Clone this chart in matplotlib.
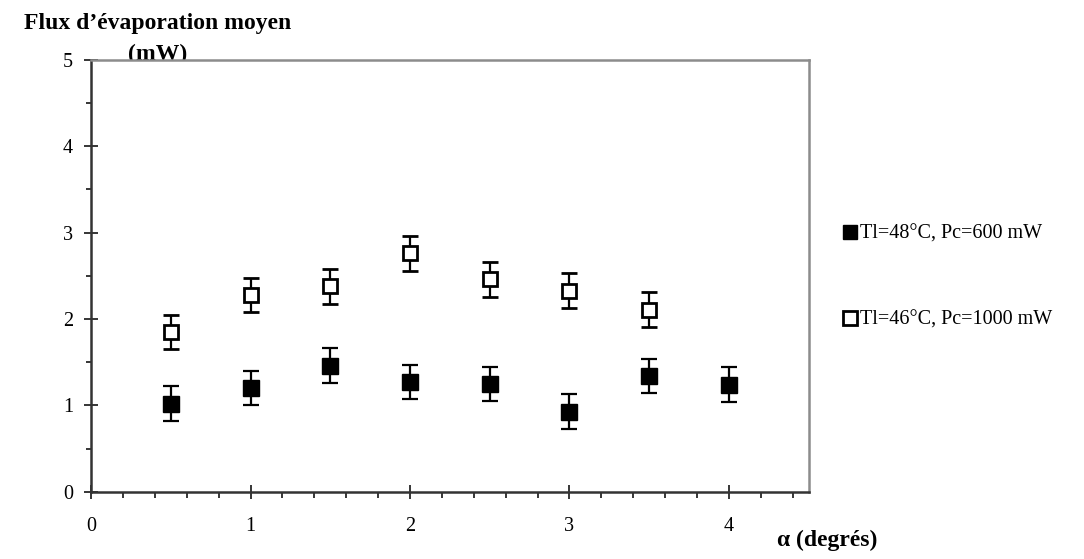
import numpy as np
import matplotlib
matplotlib.use('Agg')
import matplotlib.pyplot as plt
from matplotlib.lines import Line2D
from matplotlib.ticker import MultipleLocator

plt.rcParams['font.family'] = ['Liberation Serif', 'DejaVu Serif']

# angle (degres)
alpha_600 = [0.5, 1.0, 1.5, 2.0, 2.5, 3.0, 3.5, 4.0]
flux_600 = [1.02, 1.20, 1.46, 1.27, 1.25, 0.93, 1.34, 1.24]
err_600 = [0.2, 0.2, 0.2, 0.2, 0.2, 0.2, 0.2, 0.2]

alpha_1000 = [0.5, 1.0, 1.5, 2.0, 2.5, 3.0, 3.5]
flux_1000 = [1.85, 2.28, 2.38, 2.76, 2.46, 2.33, 2.11]
err_1000 = [0.2, 0.2, 0.2, 0.2, 0.2, 0.2, 0.2]

labels = ['Tl=48°C, Pc=600 mW', 'Tl=46°C, Pc=1000 mW']

fig = plt.figure(figsize=(10.84, 5.59), dpi=100)
ax = fig.add_axes([0.084, 0.12, 0.662, 0.773])

ax.errorbar(alpha_600, flux_600, yerr=err_600, fmt='s', color='black',
            markersize=11, ecolor='black', elinewidth=1.6, capsize=5.5,
            capthick=1.6)
ax.errorbar(alpha_1000, flux_1000, yerr=err_1000, fmt='s', color='black',
            markerfacecolor='white', markeredgecolor='black', markeredgewidth=2.0,
            markersize=10, ecolor='black', elinewidth=1.6, capsize=5.5,
            capthick=1.6)

ax.set_xlim(0, 4.5)
ax.set_ylim(0, 5)
ax.xaxis.set_major_locator(MultipleLocator(1))
ax.xaxis.set_minor_locator(MultipleLocator(0.2))
ax.yaxis.set_major_locator(MultipleLocator(1))
ax.yaxis.set_minor_locator(MultipleLocator(0.5))

ax.tick_params(axis='x', which='major', direction='inout', length=10, width=1.1,
               pad=13, labelsize=14.5)
ax.tick_params(axis='x', which='minor', direction='out', length=4, width=1.1)
ax.tick_params(axis='y', which='major', direction='inout', length=10, width=1.1,
               pad=8, labelsize=14.5)
ax.tick_params(axis='y', which='minor', direction='out', length=3.5, width=1.1)

for s in ['left', 'bottom']:
    ax.spines[s].set_color('#333333')
    ax.spines[s].set_linewidth(1.8)
for s in ['top', 'right']:
    ax.spines[s].set_color('#8c8c8c')
    ax.spines[s].set_linewidth(1.8)

# titre de l'axe y, "(mW)" passe sous le cadre comme dans l'original
fig.text(0.145, 0.976, 'Flux d’évaporation moyen', ha='center', va='top',
         fontsize=17, fontweight='bold', zorder=-1)
fig.text(0.145, 0.922, '(mW)', ha='center', va='top',
         fontsize=17, fontweight='bold', zorder=-1)
fig.text(0.717, 0.033, 'α (degrés)', ha='left', va='center', fontsize=17,
         fontweight='bold', family=['Liberation Serif', 'DejaVu Serif'])

handles = [
    Line2D([], [], marker='s', linestyle='none', color='black', markersize=10),
    Line2D([], [], marker='s', linestyle='none', markerfacecolor='white',
           markeredgecolor='black', markeredgewidth=2.0, markersize=9.5),
]
fig.legend(handles, labels, loc='upper left', bbox_to_anchor=(0.771, 0.612),
           frameon=False, fontsize=14.5, handlelength=0.6, handletextpad=0.2,
           labelspacing=3.3, borderaxespad=0)

fig.savefig('out.png', dpi=100)
